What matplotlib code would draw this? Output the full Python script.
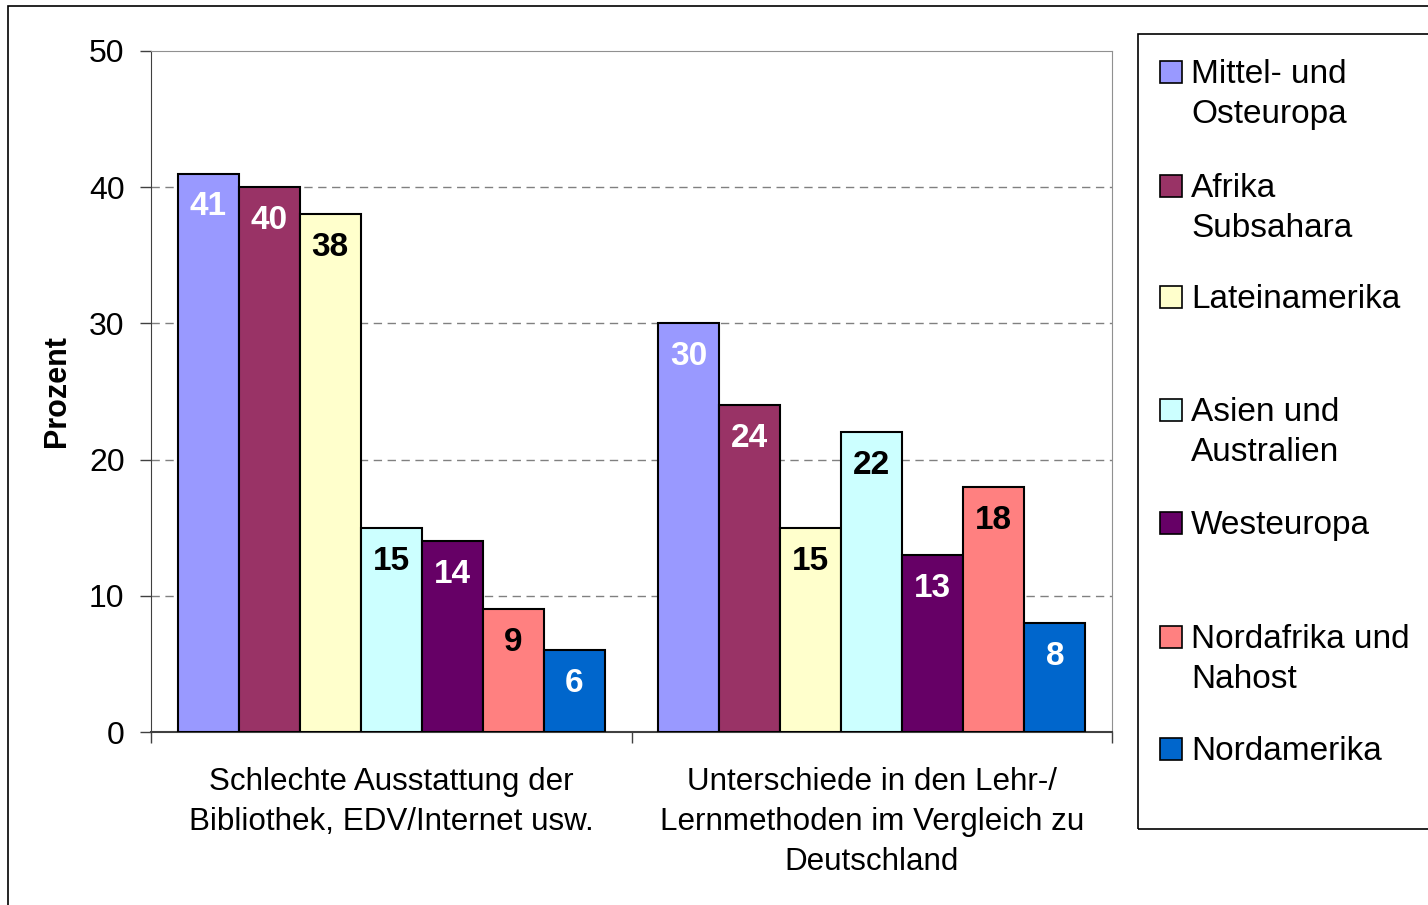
import numpy as np
import matplotlib
matplotlib.use("Agg")
from matplotlib import pyplot as plt
from matplotlib.patches import Rectangle

plt.rcParams['font.family'] = ['Liberation Sans', 'DejaVu Sans']

categories = ["Schlechte Ausstattung der\nBibliothek, EDV/Internet usw.",
              "Unterschiede in den Lehr-/\nLernmethoden im Vergleich zu\nDeutschland"]
regions = ["Mittel- und\nOsteuropa", "Afrika\nSubsahara", "Lateinamerika",
           "Asien und\nAustralien", "Westeuropa", "Nordafrika und\nNahost", "Nordamerika"]
mittel_osteuropa = [41, 30]
afrika_subsahara = [40, 24]
lateinamerika = [38, 15]
asien_australien = [15, 22]
westeuropa = [14, 13]
nordafrika_nahost = [9, 18]
nordamerika = [6, 8]
series = [mittel_osteuropa, afrika_subsahara, lateinamerika, asien_australien,
          westeuropa, nordafrika_nahost, nordamerika]
colors = ['#9999FF', '#993366', '#FFFFCC', '#CCFFFF', '#660066', '#FF8080', '#0066CC']
label_colors = ['white', 'white', 'black', 'black', 'white', 'black', 'white']
yticks = [0, 10, 20, 30, 40, 50]

fig = plt.figure(figsize=(14.28, 9.05), dpi=100)
W, H = 1428, 905
ax = fig.add_axes([151 / W, 1 - 732 / H, (1112 - 151) / W, (732 - 51) / H])

x = np.arange(len(categories))
w = 0.127
for i, (vals, c, lc) in enumerate(zip(series, colors, label_colors)):
    pos = x + (i - 3) * w
    bars = ax.bar(pos, vals, width=w, color=c, edgecolor='black', linewidth=1.5, zorder=3)
    for b, v in zip(bars, vals):
        ax.annotate(str(v), (b.get_x() + b.get_width() / 2, v), xytext=(0, -24),
                    textcoords='offset points', ha='center', va='center',
                    fontsize=24, fontweight='bold', color=lc, zorder=4)

ax.set_xlim(-0.5, 1.5)
ax.set_ylim(0, 50)
ax.set_yticks(yticks)
ax.set_xticks([-0.5, 0.5, 1.5], minor=False)
ax.set_xticklabels([])
ax.set_xticks(x, minor=True)
ax.set_xticklabels(categories, minor=True, fontsize=22.6, linespacing=1.45)
ax.tick_params(axis='x', which='minor', length=0, pad=25)
ax.tick_params(axis='x', which='major', length=8, width=1, color='#404040', direction='out')
ax.tick_params(axis='y', length=8, width=1, color='#404040', direction='out', pad=11, labelsize=23)

for y in yticks[1:-1]:
    ax.axhline(y, color='#808080', linewidth=1, dashes=(6, 4), zorder=1)

ax.spines['left'].set_color('#404040')
ax.spines['bottom'].set_color('#404040')
ax.spines['bottom'].set_linewidth(1.5)
ax.spines['top'].set_color('#909090')
ax.spines['right'].set_color('#909090')

ax.set_ylabel('Prozent', fontsize=22, fontweight='bold')
ax.yaxis.set_label_coords((72 - 151) / (1112 - 151), 0.5)

# outer chart frame (cut off at right and bottom)
fig.patches.append(Rectangle((8 / W, -0.5), 2, 1.5 - 6 / H, transform=fig.transFigure,
                             fill=False, edgecolor='black', linewidth=1.2))

# legend box
fig.patches.append(Rectangle((1138 / W, 1 - 829 / H), 1, (829 - 34) / H,
                             transform=fig.transFigure, fill=False,
                             edgecolor='black', linewidth=1.2))
legend_y = [72, 186, 297, 410, 523, 637, 749]
for name, c, ly in zip(regions, colors, legend_y):
    fig.patches.append(Rectangle((1160 / W, 1 - (ly + 11) / H), 22 / W, 22 / H,
                                 transform=fig.transFigure, facecolor=c,
                                 edgecolor='black', linewidth=1.2))
    fig.text(1191 / W, 1 - (ly - 13) / H, name, fontsize=24, ha='left', va='top',
             linespacing=1.37)

fig.savefig('out.png', dpi=100)
